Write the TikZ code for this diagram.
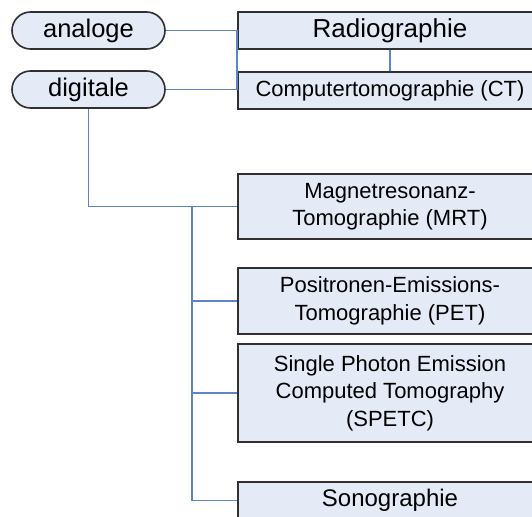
\documentclass[tikz,border=0pt]{standalone}
\usepackage{fontspec}
\setmainfont{Liberation Sans}
\usetikzlibrary{shapes.misc}
\definecolor{boxfill}{HTML}{E4EAF6}
\definecolor{boxline}{HTML}{303030}
\definecolor{linkblue}{HTML}{5F83C8}
\begin{document}
\begin{tikzpicture}[x=1pt,y=-1pt,
  pill/.style={rounded rectangle, draw=boxline, line width=1.6pt, fill=boxfill,
    minimum width=153pt, minimum height=37pt, inner sep=0pt, font=\fontsize{25.5}{28}\selectfont},
  method/.style={rectangle, draw=boxline, line width=1.6pt, fill=boxfill,
    minimum width=304pt, inner sep=0pt, align=center, font=\fontsize{22}{27.5}\selectfont},
  link/.style={draw=linkblue, line width=1.6pt}]
\useasboundingbox (0,0) rectangle (532,516);
\clip (0,0) rectangle (532,516);

% left-hand categories
\node[pill] (analog) at (88.5,30.5) {analoge};
\node[pill] (digital) at (88.5,89.5) {digitale};

% imaging methods
\node[method, minimum height=37pt, font=\fontsize{26}{28}\selectfont] (rad) at (390,30.5) {Radiographie};
\node[method, minimum height=37pt] (ct) at (390,90.5) {Computertomographie (CT)};
\node[method, minimum height=65pt] (mrt) at (390,206.5) {Magnetresonanz-\\Tomographie (MRT)};
\node[method, minimum height=66pt] (pet) at (390,301) {Positronen-Emissions-\\Tomographie (PET)};
\node[method, minimum height=98pt] (spect) at (390,393) {Single Photon Emission\\Computed Tomography\\(SPETC)};
\node[method, minimum height=37pt, font=\fontsize{24}{28}\selectfont] (sono) at (390,500.5) {Sonographie};

% connectors
\coordinate (trunk) at (192,206.5);
\path[link] (analog.east) -- (rad.west);
\path[link] (rad.west) -- (ct.west);
\path[link] (rad.south) -- (ct.north);
\path[link] (digital.east) -- (digital.east -| ct.west);
\path[link] (digital.south) |- (mrt.west);
\path[link] (trunk) |- (sono.west);
\path[link] (trunk |- pet.west) -- (pet.west);
\path[link] (trunk |- spect.west) -- (spect.west);
\end{tikzpicture}
\end{document}
